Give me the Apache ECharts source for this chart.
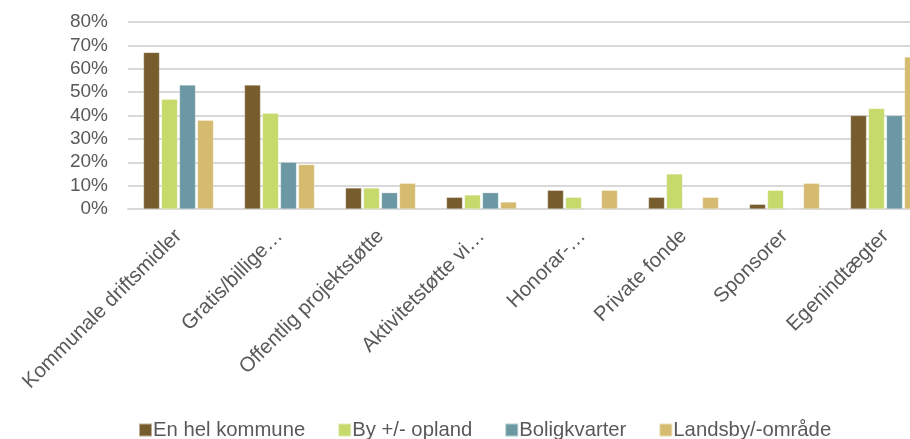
<!DOCTYPE html>
<html><head><meta charset="utf-8">
<script src="https://cdn.jsdelivr.net/npm/echarts@6/dist/echarts.min.js"></script>
<style>html,body{margin:0;padding:0;background:#fff}#c{width:910px;height:439px}</style>
</head><body><div id="c"></div>
<script>
const categories = ["Kommunale driftsmidler","Gratis/billige…","Offentlig projektstøtte","Aktivitetstøtte vi…","Honorar-…","Private fonde","Sponsorer","Egenindtægter"];
const seriesNames = ["En hel kommune","By +/- opland","Boligkvarter","Landsby/-område"];
const enHelKommune = [67,53,9,5,8,5,2,40];
const byOpland = [47,41,9,6,5,15,8,43];
const boligkvarter = [53,20,7,7,0,0,0,40];
const landsby = [38,19,11,3,8,5,11,65];
const yTicks = [0,10,20,30,40,50,60,70,80];
const colors = ["#775C2E","#C6D96B","#6B98A2","#D5BB70"];
const font = "Liberation Sans";
const allData = [enHelKommune, byOpland, boligkvarter, landsby];
const chart = echarts.init(document.getElementById('c'));
chart.setOption({
  animation:false,
  color: colors,
  grid:{left:128, top:22, bottom:230, width:808, containLabel:false, outerBoundsMode:'none'},
  legend:{bottom:-6, left:133, itemWidth:13, itemHeight:13, itemGap:32,
    icon:'rect', textStyle:{fontFamily:font, fontSize:20.3, color:'#595959', padding:[0,0,0,-4]},
    data: seriesNames},
  xAxis:{type:'category', data:categories,
    axisTick:{show:false},
    axisLine:{lineStyle:{color:'#D9D9D9', width:2}},
    axisLabel:{interval:0, rotate:45, margin:24, fontFamily:font, fontSize:20.5, color:'#595959'}},
  yAxis:{type:'value', min:yTicks[0], max:yTicks[yTicks.length-1], interval:10,
    axisLabel:{formatter:'{value}%', fontFamily:font, fontSize:19, color:'#595959', margin:20},
    splitLine:{lineStyle:{color:'#D9D9D9', width:2}},
    axisLine:{show:false}, axisTick:{show:false}},
  series: seriesNames.map((n,i)=>({name:n, type:'bar', data:allData[i], barWidth:16, barGap:'12.5%',
    itemStyle:{borderColor:'rgba(255,255,255,0.5)', borderWidth:0.5}}))
});
</script></body></html>
